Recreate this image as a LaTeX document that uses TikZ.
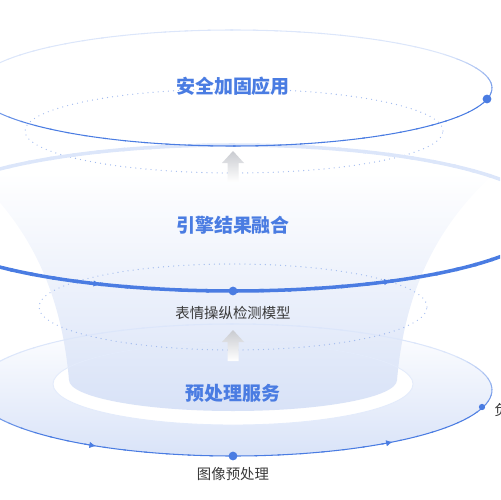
\documentclass[tikz,border=0pt]{standalone}
\usepackage{fontspec}
\setmainfont{Noto Sans CJK SC}
\usetikzlibrary{arrows.meta,calc}

\definecolor{ringblue}{HTML}{4A7CE2}
\definecolor{ringlight}{HTML}{DCE6FA}
\definecolor{dotline}{HTML}{A3BCEF}
\definecolor{textgray}{HTML}{3A3A3A}
\definecolor{fillblue}{HTML}{D9E3F8}
\definecolor{funnelblue}{HTML}{D8E2F7}
\definecolor{arrowgray}{HTML}{C9CBD0}

% Ellipsenrand mit Farbverlauf (Mitte, rx, ry, Breite, Basis, sin, cos)
\newcommand{\ringstroke}[7]{%
  \foreach \a in {0,5,...,355}{%
    \pgfmathtruncatemacro{\p}{max(0,min(100,#5-#6*sin(\a+2.5)+#7*cos(\a+2.5)))}%
    \draw[line width=#4, ringblue!\p!ringlight]
      ([shift={(\a:#2 and #3)}]#1) arc[start angle=\a, end angle=\a+5.6,
      x radius=#2, y radius=#3];
  }%
}

\begin{document}
\begin{tikzpicture}[x=0.02cm, y=0.02cm,
    layertitle/.style={font=\bfseries\fontsize{10.8}{12}\selectfont, text=titleblue},
    layertext/.style={font=\fontsize{8.2}{10}\selectfont, text=textgray},
    dotring/.style={draw=dotline, line width=0.75pt, line cap=round,
      dash pattern=on 0pt off 2.9pt},
    dotmark/.style={circle, fill=ringblue, inner sep=0pt, minimum size=5pt},
    flowtip/.style={ringblue, line width=0.4pt, -{Latex[length=3.6pt,width=3.6pt]}},
    uparrow/.style={top color=arrowgray, bottom color=white}]
\colorlet{titleblue}{ringblue}
\useasboundingbox (0,0) rectangle (500,-500);
\clip (0,0) rectangle (500,-500);
% Mittelpunkte der Ebenen
\coordinate (topc) at (233,-88);
\coordinate (topdots) at (234,-131);
\coordinate (midc) at (233,-218);
\coordinate (middots) at (233,-307);
\coordinate (basec) at (233,-390);
\coordinate (innerc) at (233,-384);
% untere Scheibe
\shade[top color=white, bottom color=fillblue] (basec) ellipse [x radius=259, y radius=66];
\fill[white] (innerc) ellipse [x radius=180, y radius=41];
% Trichter
\shade[top color=white, middle color=funnelblue!28, bottom color=funnelblue]
  (-30,-172) .. controls (35,-230) and (62,-300) .. (69,-380)
  arc[start angle=180, end angle=360, x radius=164, y radius=31]
  .. controls (404,-300) and (431,-230) .. (496,-172) -- cycle;
\draw[ringlight!80, line width=0.5pt] (innerc) ellipse [x radius=180, y radius=41];
\ringstroke{basec}{259}{66}{0.6pt}{40}{110}{20}
\foreach \s/\t in {235/238, 305/308}
  \draw[flowtip] ([shift={(\s:259 and 66)}]basec)
    arc[start angle=\s, end angle=\t, x radius=259, y radius=66];
% gepunktete Ellipsen
\draw[dotring] (middots) ellipse [x radius=194, y radius=43];
\draw[dotring] (topdots) ellipse [x radius=209, y radius=42];
% mittlerer Ring
\ringstroke{midc}{315}{73}{2pt}{50}{160}{0}
\foreach \s/\t in {242/245, 297/300}
  \draw[flowtip] ([shift={(\s:315 and 73)}]midc)
    arc[start angle=\s, end angle=\t, x radius=315, y radius=73];
% oberer Ring
\ringstroke{topc}{259}{58}{0.6pt}{45}{110}{25}
% Pfeile nach oben
\foreach \ty in {151,330}
  \shade[uparrow] (233,-\ty) -- ++(11,-12) -- ++(-5.5,0) -- ++(0,-19)
    -- ++(-11,0) -- ++(0,19) -- ++(-5.5,0) -- cycle;
% Punkte
\node[dotmark] (topdot) at (487,-99) {};
\node[dotmark] (middot) at (233,-291) {};
\node[dotmark] (basedot) at (233,-456) {};
\node[dotmark, minimum size=3.6pt] (sidedot) at (482,-407) {};
% Beschriftungen
\node[layertitle] (topname) at (233,-86) {安全加固应用};
\node[layertitle] (midname) at (233,-225) {引擎结果融合};
\node[layertitle] (basename) at (233,-393) {预处理服务};
\node[layertext] (modelname) at (233,-313) {表情操纵检测模型};
\node[layertext] (prename) at (233,-474) {图像预处理};
\node[layertext, anchor=west, inner xsep=0pt] (balname) at (494,-410) {负载均衡};
\end{tikzpicture}
\end{document}
